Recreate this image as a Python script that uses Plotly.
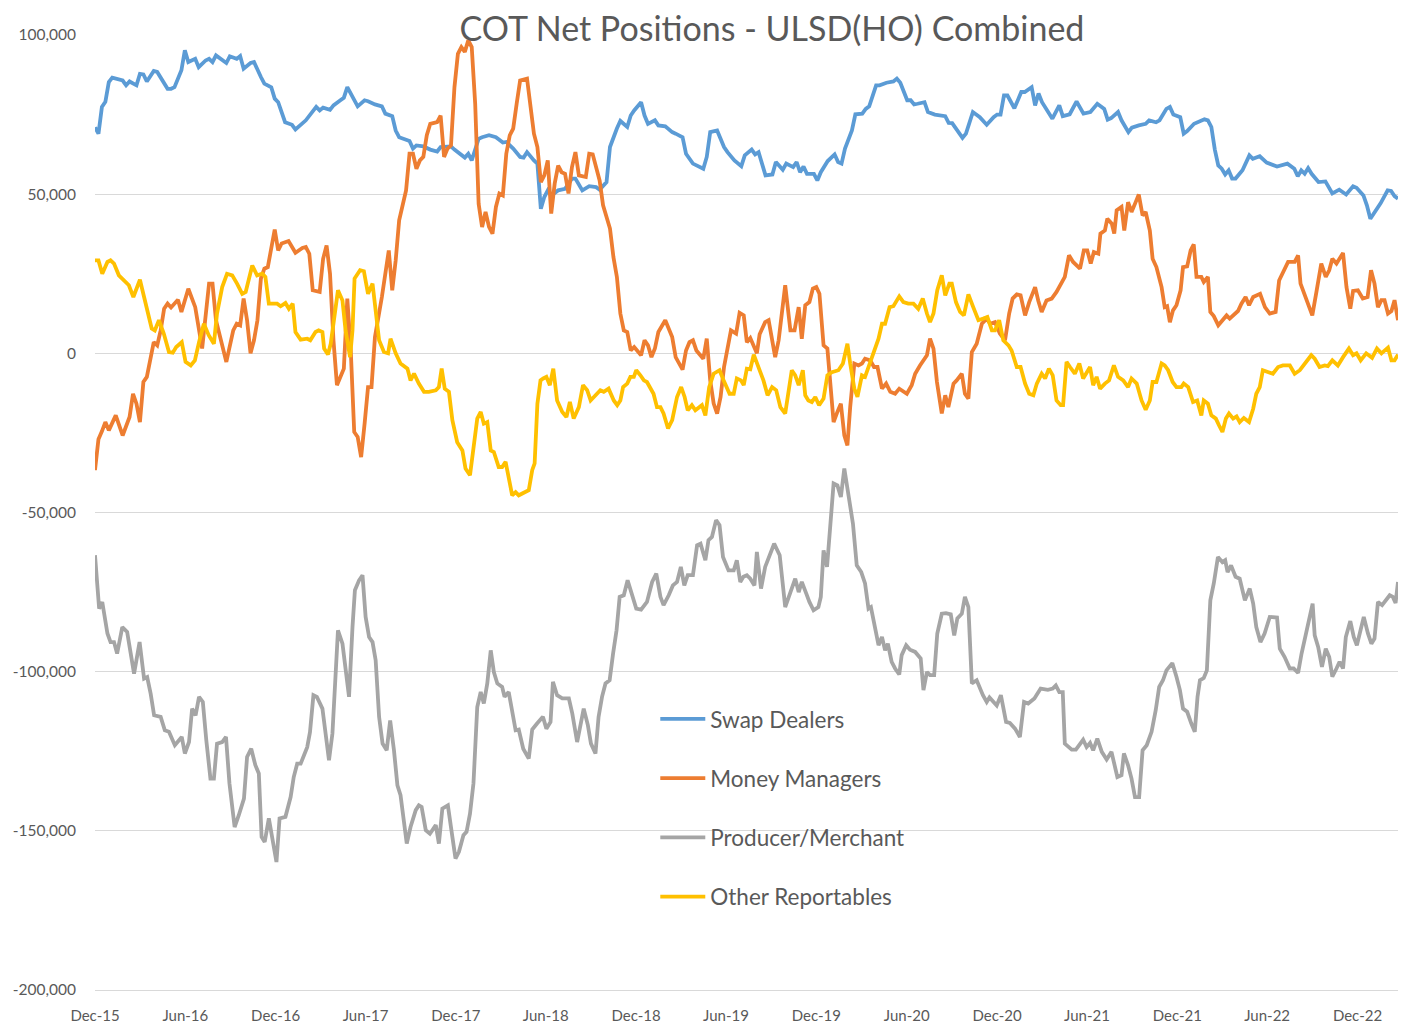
import numpy as np
import pandas as pd
import plotly.graph_objects as go

START = "2015-12-01"

# (weeks since 2015-12-01, net position in thousands of contracts)
swap_dealers = [
    (0, 71), (1, 69), (2, 77.4), (3, 79), (4, 85.2), (5, 86.6), (8, 85.7), (9, 84.2), (10, 85.4), (12, 84.2),
    (13, 87.8), (14, 87.6), (15, 85.4), (17, 88.7), (18, 88.4), (21, 83.1), (22, 83.1), (23, 83.6), (25, 88.9),
    (26, 95.2), (27, 91.5), (29, 92.5), (30, 89.9), (32, 92), (33, 92.5), (34, 91.5), (35, 93.6), (38, 91.2),
    (39, 93.3), (41, 92.5), (42, 93.4), (43, 89.4), (45, 91.2), (46, 91.5), (48, 86.8), (49, 84.7), (51, 83.6),
    (52, 80), (53, 78.9), (55, 72.6), (57, 71.8), (58, 70.3), (61, 73.2), (63, 76.3), (64, 77.4), (65, 76.3),
    (66, 77.2), (68, 76.5), (69, 77.9), (71, 79.5), (72, 80.3), (73, 83.6), (75, 79.5), (76, 77.6), (78, 79.5),
    (79, 79.2), (81, 78.2), (83, 77.6), (84, 75.3), (86, 74.5), (87, 70), (88, 67.9), (91, 66.7), (92, 64.3),
    (93, 65.3), (95, 65), (97, 64), (99, 63.4), (100, 64.8), (103, 65), (104, 64), (107, 61.5), (108, 62.7),
    (109, 60.6), (111, 67.4), (112, 67.9), (114, 68.5), (116, 67.9), (118, 66.2), (119, 66.4), (121, 64.3),
    (123, 61.7), (124, 61.5), (125, 63.2), (127, 60.6), (128, 59.6), (129, 45.4), (130, 49.1), (131, 51.2),
    (132, 49.6), (134, 51.2), (136, 51.7), (138, 54.9), (139, 54.9), (141, 51.2), (143, 52.5), (145, 52.2),
    (146, 51.4), (148, 53.8), (149, 64.8), (151, 70.6), (152, 73), (154, 71.1), (155, 74.7), (156, 76.3),
    (158, 78.9), (159, 74.7), (160, 72.1), (162, 73.2), (163, 71.6), (165, 71.3), (167, 69.5), (168, 69),
    (170, 67.9), (171, 62.7), (173, 59.6), (176, 58), (177, 61.7), (178, 69.5), (180, 70), (182, 64.8),
    (183, 63.2), (185, 60.6), (187, 58.8), (188, 62.2), (190, 64), (191, 62.5), (192, 63.2), (194, 55.9),
    (196, 56.2), (197, 60.1), (199, 57.7), (200, 59.6), (202, 58.5), (203, 60.1), (204, 56.9), (205, 58.7),
    (206, 56.4), (208, 56.4), (209, 54.3), (210, 56.9), (212, 60.4), (214, 62.5), (215, 60.1), (216, 59.6),
    (217, 64.3), (219, 70), (220, 75.1), (222, 75.3), (223, 76.8), (224, 77.6), (226, 84.2), (227, 84.2),
    (229, 85), (231, 85.4), (232, 86.3), (233, 85), (235, 79.5), (236, 79.5), (237, 78.2), (238, 78.4),
    (240, 78.9), (241, 75.8), (243, 75), (246, 74.5), (247, 72.4), (248, 72.3), (251, 67.7), (252, 69),
    (254, 75.8), (256, 74.2), (258, 71.8), (260, 74.2), (261, 75), (262, 75), (263, 81), (264, 81), (266, 77),
    (267, 79.5), (268, 82.1), (269, 82.1), (271, 83.6), (272, 77.9), (273, 81.6), (274, 78.9), (276, 75.6),
    (277, 73.7), (279, 77.9), (280, 74.5), (282, 75.1), (284, 79.1), (286, 75.3), (288, 75.8), (290, 78.4),
    (292, 76.8), (293, 73.4), (294, 73.9), (296, 75.8), (297, 73.2), (299, 69.5), (300, 70.9), (302, 71.6),
    (304, 72.1), (305, 73.2), (307, 72.6), (308, 73.2), (310, 76.8), (311, 77.4), (312, 75), (314, 74.2),
    (315, 69), (316, 69.8), (318, 72.1), (321, 73.5), (322, 73.2), (323, 71.1), (324, 64), (325, 59), (326, 58),
    (327, 56.2), (328, 57.5), (329, 54.9), (330, 54.9), (332, 57.5), (334, 62.2), (335, 61.1), (337, 61.9),
    (339, 59.9), (340, 59.6), (342, 58.7), (345, 59.6), (347, 58), (348, 55.6), (349, 57.5), (350, 56.4),
    (351, 58.2), (352, 56.4), (354, 53.8), (356, 54), (358, 50.2), (360, 51.4), (362, 49.9), (364, 52.5),
    (365, 52), (367, 49.6), (368, 46.5), (369, 42.3), (371, 45.4), (372, 47.2), (374, 51.2), (375, 51),
    (376, 49.4), (377, 48.6),
]

money_managers = [
    (0, -36.7), (1, -27), (2, -24.5), (3, -21.6), (4, -24.2), (6, -19.5), (8, -25.8), (10, -20), (11, -12.7),
    (12, -15.8), (13, -21.6), (14, -9), (15, -7.4), (17, 3.5), (18, 2.5), (19, 7.2), (20, 14), (21, 15.6),
    (22, 14.4), (24, 16.8), (25, 13), (27, 20.3), (29, 14.5), (30, 8.3), (31, 1.5), (33, 21.9), (34, 21.9),
    (35, 10.4), (37, 0.9), (38, -2.7), (40, 7.2), (41, 9.3), (42, 8.8), (43, 17.2), (44, 10.4), (45, 0),
    (46, 4.1), (47, 10.4), (48, 23.5), (49, 26.6), (50, 27.1), (51, 33.4), (52, 38.9), (53, 32.3), (54, 34.5),
    (56, 35.3), (57, 33.5), (58, 31.6), (60, 33.1), (61, 33.4), (62, 31.3), (63, 19.8), (65, 19.3), (66, 29.7),
    (67, 33.9), (68, 25), (69, 4.1), (70, -10), (72, -4.8), (73, 17.2), (74, 0.9), (75, -24.7), (76, -26.3),
    (77, -32.6), (78, -22.1), (79, -10.6), (80, -10.6), (81, 5.1), (83, 17.7), (84, 26.1), (85, 32.3),
    (86, 19.8), (87, 29.2), (88, 41.8), (89, 47), (90, 51.2), (91, 62.7), (92, 62.7), (93, 58), (94, 60.6),
    (95, 61.7), (96, 68.5), (97, 72.1), (99, 72.6), (100, 74.7), (101, 61.7), (102, 64.3), (103, 65.3),
    (104, 83.6), (105, 94.1), (106, 96.2), (107, 94.7), (108, 98.3), (109, 96.2), (110, 78.4), (111, 47),
    (112, 39.7), (113, 44.4), (114, 39.7), (115, 37.6), (116, 46), (117, 50.2), (118, 49.6), (119, 62.7),
    (120, 68.5), (121, 70.6), (122, 78.4), (123, 85.7), (125, 86.3), (126, 78), (127, 69), (128, 64.8),
    (129, 53.8), (130, 55.9), (131, 60.6), (132, 43.9), (133, 53.3), (134, 59), (135, 56.9), (136, 56.4),
    (137, 50.2), (138, 58.5), (139, 63.2), (140, 55.9), (142, 55.4), (143, 62.7), (144, 62.5), (146, 54.3),
    (147, 46.5), (149, 39.2), (150, 30.2), (151, 24), (152, 12.5), (153, 7.2), (154, 6.7), (155, 0.9), (156, 2),
    (158, -0.6), (159, 4.1), (160, 2.5), (161, -1.2), (162, 1.5), (163, 6.7), (165, 10.4), (167, 5.1),
    (168, -1.2), (170, -5.1), (171, 0.9), (172, 3.5), (173, 4.1), (174, 0.9), (176, -1.7), (177, 4.6),
    (178, -8.5), (179, -15.8), (180, -18.9), (181, -13.7), (182, -4.3), (183, 2), (184, 7.2), (185.5, 6.2),
    (186.5, 12.7), (187.7, 11.9), (188.6, 3.5), (189.6, 4.8), (190.6, 2), (191.5, 0), (192.3, 6), (193.9, 9.8),
    (194.9, 10.4), (196.8, -1.2), (197.8, 4.1), (199.7, 21.4), (201.2, 7.2), (202.4, 7.2), (203.6, 14.5),
    (204.5, 4.6), (205.5, 15.1), (206.7, 16.1), (207.7, 20.3), (208.7, 20.8), (209.6, 18.7), (210.8, 2.5),
    (211.9, 1.5), (213.7, -21.6), (214.8, -18.4), (215.8, -15.8), (216.8, -25.8), (217.7, -28.9),
    (218.5, -16.9), (219.7, -3.2), (220.9, -3.8), (221.9, -3.2), (222.8, -1.7), (224.3, -2.2), (225.4, -4.3),
    (226.4, -4.3), (227.7, -11.1), (228.9, -9.5), (230.1, -12.1), (231.5, -12.7), (232.7, -11.1),
    (234.9, -12.7), (236.3, -10), (237.3, -6.4), (238.7, -3.8), (240.7, -0.6), (241.6, 4.6), (242.6, 1.5),
    (243.6, -9), (245, -18.9), (246, -13.2), (246.9, -16.9), (248.4, -9.5), (249.3, -8.5), (250.8, -6.4),
    (251.7, -12.7), (252.7, -14.2), (253.7, 0.4), (255.1, 3), (256.1, 7.2), (256.6, 9.3), (258, 10.9),
    (259, 9.3), (260.4, 9.8), (261.8, 6.2), (263.3, 4.1), (264.5, 12.5), (265.5, 17.2), (266.7, 18.5),
    (267.8, 18.2), (269.1, 11.9), (270.3, 16.1), (272, 20.8), (272.9, 16.6), (273.9, 13), (275.3, 16.6),
    (276.8, 17.2), (278.2, 19.3), (279.7, 21.9), (280.6, 24), (281.8, 30.8), (283, 28.7), (285, 26.6),
    (286.1, 32.3), (287.1, 32.3), (288.1, 28.2), (289, 31.8), (290.3, 31.3), (290.9, 37.6), (292.2, 38.6),
    (292.9, 42.3), (294.2, 40.7), (294.9, 37.6), (295.6, 44.9), (297, 46), (297.8, 38.6), (298.9, 47.5),
    (299.9, 44.4), (301.1, 47.5), (302, 49.9), (303.1, 43.3), (304, 44.4), (305.2, 38.6), (306, 29.7),
    (307.1, 27.1), (308.6, 20.8), (309.5, 14.5), (310.2, 14.8), (311, 9.8), (311.9, 13.5), (312.9, 15.1),
    (314.1, 19.8), (314.8, 27.1), (316, 27.3), (317, 32.3), (317.9, 34.2), (318.7, 24), (320.1, 24),
    (320.8, 22.4), (322, 24), (322.7, 13), (323.7, 11.7), (325, 8.8), (326.4, 10.7), (327.4, 11.9),
    (328.3, 10.9), (329.8, 12.5), (330.7, 13.3), (331.7, 15.6), (332.9, 17.7), (333.9, 15.1), (335.1, 17.7),
    (337.1, 18.7), (338.5, 14.5), (339.9, 12.5), (341.6, 13), (342.6, 22.9), (343.7, 25.5), (345.2, 28.7),
    (347.1, 28.7), (348.1, 30.8), (348.8, 21.9), (350.3, 17.2), (352.2, 11.9), (353.4, 19.3), (354.8, 28.2),
    (356.1, 24), (357.1, 26.1), (358, 29.7), (359.2, 28.2), (361.1, 31.5), (362.1, 20.8), (363.2, 14),
    (364, 19.6), (365.4, 19.8), (366.8, 17.2), (368.2, 17.7), (369.2, 26.1), (370.2, 21.9), (371.2, 14.5),
    (372.2, 16.7), (373.1, 16.7), (374.1, 12.5), (375.1, 13.3), (376, 16.7), (377, 10.4),
]

producer_merchant = [
    (0, -63.4), (1.2, -80.2), (2.1, -78.1), (3.6, -88), (4.5, -90.7), (5.5, -90.7), (6.4, -94.3), (7.9, -86),
    (9.3, -87.5), (11.3, -100.6), (12.9, -90.7), (14.2, -102.2), (15.1, -101.7), (16.1, -106.9),
    (17.1, -113.7), (19, -114.2), (20.2, -118.4), (21.4, -118.9), (23.1, -123.1), (25.1, -120.5),
    (26, -125.7), (27.2, -122.1), (28.1, -111.6), (29.1, -113.7), (30.1, -107.9), (31.2, -109.5),
    (32.2, -121.5), (33.4, -133.6), (34.4, -133.6), (35.3, -122.6), (36.8, -122.1), (37.9, -120.5),
    (38.9, -135.1), (40.4, -148.8), (41.6, -145.1), (43.1, -139.9), (44, -126.8), (45.2, -124.2),
    (46.4, -129.4), (47.4, -132), (48.2, -151.9), (49.1, -153.5), (50.3, -146.1), (51.4, -153.5),
    (52.5, -159.8), (53.4, -146.1), (55.1, -145.6), (56.6, -139.4), (57.5, -133.1), (58.5, -128.9),
    (59.5, -128.9), (61.4, -123.7), (62.2, -119), (63.2, -107.4), (64.2, -107.9), (65.8, -111.6),
    (66.8, -121.5), (67.7, -127.8), (68.7, -119.4), (69.4, -102.7), (70.3, -87), (71.6, -91.2),
    (72.5, -98.5), (73.5, -107.9), (74.5, -86), (75.2, -74.4), (76.4, -71.3), (77.4, -69.7), (78.3, -82.8),
    (79.3, -89.1), (80.3, -90.7), (81.2, -96.4), (82.2, -114.2), (83.2, -122.6), (84.4, -124.7),
    (85.4, -115.3), (86.5, -124.7), (87.5, -135.7), (88.4, -138.8), (90.2, -154), (91.3, -148.8),
    (92.8, -143.5), (93.7, -142), (94.5, -142.5), (95.7, -149.8), (96.9, -150.9), (98.6, -148.2),
    (99.5, -154), (100.5, -143), (102.1, -142), (103.4, -151.9), (104.3, -158.7), (105.3, -156.6),
    (106.6, -151.4), (107.5, -150.3), (108.5, -144.6), (109.5, -135.1), (110.6, -111.1), (111.6, -106.4),
    (112.5, -110), (113.5, -103.7), (114.5, -93.3), (115.4, -100.1), (116.4, -103.7), (117.8, -104.8),
    (118.5, -107.9), (119.7, -106.4), (120.7, -113.2), (121.7, -118.4), (122.6, -118.2), (123.9, -124.2),
    (125.5, -127.3), (126.5, -118.2), (127.9, -116.3), (129.6, -114.2), (130.6, -117.9), (131.8, -115.8),
    (132.5, -103.2), (133.7, -107.4), (135.2, -108.4), (137.1, -108.4), (138.1, -113.2), (139.5, -122.1),
    (141.4, -111.6), (142.6, -116.8), (143.5, -122.6), (144.8, -125.7), (145.7, -114.2), (146.7, -107.9),
    (147.7, -103.7), (148.9, -102.7), (149.9, -94.3), (150.9, -87), (151.8, -76.5), (153, -76),
    (154.1, -71.3), (155.4, -76.5), (156.6, -80.2), (158, -80.5), (159.7, -78.1), (161.2, -71.8),
    (162.4, -69.2), (163.6, -76.5), (164.5, -79.1), (166, -76), (167.2, -72.9), (168.4, -71.8),
    (169.5, -67.1), (170.5, -72.9), (171.5, -69.7), (173, -69.7), (174.2, -60.3), (175.2, -59.8),
    (176.6, -65), (177.5, -58.7), (178.5, -57.7), (179.7, -52.4), (180.7, -54), (181.7, -64), (183.3, -68.2),
    (184.8, -68.2), (185.7, -65), (186.7, -71.8), (187.6, -70.2), (188.6, -69.7), (189.6, -70.8),
    (190.8, -72.9), (191.5, -62.4), (192.7, -73.9), (193.9, -67.1), (196.5, -59.8), (198.1, -63.4),
    (199.7, -79.7), (201.2, -75), (202.6, -70.8), (203.6, -75), (204.5, -71.8), (205.8, -75.5),
    (206.7, -78.1), (207.9, -80.7), (209.3, -79.7), (210, -76.5), (210.8, -61.9), (211.8, -67.1),
    (212.7, -55.6), (213.7, -40.9), (214.8, -41.5), (215.8, -45.1), (216.8, -36.2), (218, -44.1),
    (219.3, -53.5), (220.4, -66.6), (221.7, -68.7), (222.8, -72.3), (223.8, -80.2), (224.5, -79.7),
    (225.7, -87), (226.7, -91.7), (227.7, -89.1), (228.6, -93.3), (229.4, -91.2), (230.5, -96.9),
    (231.5, -99), (232.7, -100.9), (233.4, -94.8), (234.7, -91.7), (235.8, -93.1), (237.3, -93.8),
    (238.9, -95.9), (239.7, -105.8), (240.7, -100.1), (241.6, -101.1), (242.8, -101.1), (243.7, -88),
    (245, -81.8), (246.2, -81.6), (247.6, -82), (248.6, -88.6), (249.5, -83.3), (250.8, -81.8),
    (251.7, -76.5), (252.7, -79.7), (253.7, -103.7), (255.1, -102.7), (256.9, -107.4), (258, -109.5),
    (258.8, -108.1), (260.9, -110.6), (262.1, -107.4), (263.6, -115.8), (264.7, -116.1), (266.2, -117.9),
    (267.6, -120.5), (268.8, -109.5), (270, -110), (271.8, -108.4), (273.6, -105.3), (275.7, -105.7),
    (277.1, -105.3), (278, -104.3), (279, -106.4), (280, -106.4), (280.6, -122.6), (282.6, -124.5),
    (283.8, -124.5), (285.9, -121.4), (286.9, -123.7), (287.9, -122.4), (288.8, -124.7), (290, -121),
    (291.3, -125.2), (292.7, -127.6), (294.1, -125.2), (295.8, -133.1), (297, -132.5), (297.7, -125.7),
    (298.9, -129.4), (299.9, -133.6), (300.9, -139.4), (302.1, -139.4), (303.1, -124.7), (304.3, -123.1),
    (305.7, -118.9), (306.9, -112.1), (307.9, -104.8), (309, -102.7), (310, -99.6), (311.7, -97.3),
    (312.9, -101.6), (313.9, -105.8), (314.8, -111.6), (316, -112.6), (317.2, -116.3), (318.2, -118.9),
    (319, -107.9), (319.7, -102.7), (320.8, -102), (321.7, -99.6), (322.7, -77.6), (323.7, -72.3),
    (324.9, -64), (326.2, -65.6), (327, -65), (327.7, -68.7), (328.7, -66.6), (330, -70.2), (331.2, -70.8),
    (332.7, -77.6), (334.1, -73.9), (335.1, -78.6), (336, -86), (337.2, -90.7), (338.4, -88), (339.9, -82.8),
    (342, -83), (342.8, -92.8), (344.2, -95.4), (345.7, -99), (346.8, -99), (348.1, -100.4), (349.1, -94.3),
    (350.5, -87.5), (352.3, -78.6), (352.9, -88.6), (353.9, -92.2), (355, -98.5), (356.1, -92.8),
    (357.1, -95.4), (358, -101.6), (359.2, -99), (360.1, -96.9), (361.1, -99), (361.9, -89.1),
    (363.2, -84.1), (364.2, -89.1), (365.1, -91.7), (365.9, -88), (367.1, -82.8), (368.3, -88),
    (369.3, -91.2), (370.2, -89.6), (371.2, -78.1), (372.4, -79.1), (373.6, -77.4), (374.6, -76),
    (375.5, -76.5), (376.3, -78.4), (377, -71.8),
]

other_reportables = [
    (0, 29.2), (1, 29.2), (2.1, 25), (3.6, 28.7), (4.5, 29.2), (5.5, 28.2), (6.9, 24.5), (8.4, 22.9),
    (9.8, 21.4), (11.1, 17.7), (13, 23.1), (14.2, 17.7), (15.4, 12.5), (16.4, 7.8), (17.3, 7.2), (18.5, 10.4),
    (19.9, 6.2), (21.4, 0.4), (22.5, 0.2), (23.5, 2), (25.1, 3.5), (26.2, -2.7), (27.7, -3.8), (28.9, -2.2),
    (30.1, 3.5), (31.5, 9.3), (32.9, 5.7), (34.4, 3), (35.3, 12.5), (36.8, 20.8), (38.2, 25), (39.7, 24.5),
    (41.1, 21.9), (42.6, 18.7), (43.6, 19.3), (45.5, 27.6), (46.9, 24.5), (48.4, 25), (49.3, 24), (50.3, 15.6),
    (52.7, 15.6), (53.7, 14.8), (55.1, 15.8), (56.1, 14), (57.2, 15.6), (58, 6.7), (59.5, 4.3), (61.4, 4.6),
    (62.3, 4.1), (63.8, 6.7), (64.7, 7.2), (65.8, 6.7), (66.3, 1.5), (67.4, -0.4), (68.2, 3), (69.4, 13),
    (70.3, 19.8), (71.6, 16.6), (72.5, 7.2), (73.8, -1.2), (74.5, 7.2), (75.1, 23.5), (76.7, 26.1),
    (77.8, 25.8), (79, 18.7), (80.3, 21.9), (81.2, 12.5), (82.2, 4.1), (83.6, 0.4), (84.8, 0), (85.5, 4.6),
    (87, 0), (88.4, -3.2), (90.4, -4.8), (91.3, -8.5), (92.3, -6.4), (93.7, -9.5), (95.2, -12.1),
    (96.6, -12.1), (98.6, -11.6), (99.5, -10.6), (100.3, -4.8), (101.2, -11.1), (102.4, -12.1), (103.4, -21),
    (104.8, -27.9), (106.3, -30.5), (107.2, -36.2), (108.5, -38.3), (109.5, -29.4), (110.6, -20.5),
    (111.6, -18.4), (112.5, -22.1), (113.5, -21.6), (114.5, -30.5), (115.4, -31), (116.8, -35.7),
    (117.8, -35.7), (118.8, -34.1), (120.7, -44.6), (121.7, -43.6), (122.6, -44.6), (125.5, -43),
    (126.5, -36.7), (127.2, -34.6), (128, -15.8), (128.9, -8.5), (129.7, -7.9), (130.6, -7.4), (131.6, -10),
    (132.6, -4.8), (133.7, -14.8), (135.2, -18.4), (136.4, -20), (137.4, -15.3), (138.5, -20.5),
    (140, -16.9), (141.2, -10), (142.4, -11.6), (143.4, -14.8), (144.8, -13.2), (146.2, -11.6),
    (147.2, -12.1), (148.6, -11.1), (150.1, -14.8), (151.1, -16.3), (152, -14.8), (152.8, -10.6),
    (154, -9.5), (154.9, -7.4), (155.9, -7.4), (156.6, -5.3), (157.8, -6.9), (158.8, -8.5), (159.7, -9),
    (161.6, -12.7), (162.6, -16.9), (163.6, -16.9), (164.5, -18.9), (165.8, -23.6), (167, -21),
    (168.4, -13.7), (169.6, -10.6), (170.6, -13.7), (171.5, -17.9), (172.7, -16.3), (173.7, -17.9),
    (175.6, -16.3), (176.6, -19.5), (177.7, -10.6), (179, -6.4), (180.7, -5.3), (181.9, -8.5),
    (183.6, -12.7), (184.8, -12.7), (185.7, -7.9), (186.9, -8.5), (187.7, -10), (188.6, -4.8), (189.6, -5),
    (190.6, -0.4), (191.5, -3.2), (192.5, -5.9), (193.4, -8.5), (194.6, -13.2), (195.9, -10.6),
    (197.1, -11.6), (198.3, -16.9), (199.7, -18.9), (200.7, -11.6), (201.6, -5.3), (202.6, -6.9),
    (203.6, -10), (204.8, -5.3), (205.5, -13.2), (206.4, -14.8), (207.4, -15.3), (208.4, -13.7),
    (209.5, -16.3), (210.8, -14.2), (211.9, -6.9), (213.2, -5.9), (215.1, -5.3), (216.4, -3.2), (217.7, 3),
    (218.5, -3.2), (219.7, -11.1), (220.6, -13.7), (221.9, -6.9), (222.8, -7.4), (224.3, -2.7), (225.7, 0.9),
    (226.7, 4.6), (227.7, 9.3), (228.6, 9.3), (229.9, 14.5), (231, 14.8), (232.7, 17.9), (233.9, 16.1),
    (235.3, 15.6), (236.8, 15.6), (238.2, 14), (239.5, 17.2), (240.7, 12.5), (241.6, 9.8), (242.6, 12.5),
    (243.7, 19.8), (245, 24.5), (246, 18.2), (247.2, 21.9), (247.9, 21.9), (249.1, 16.1), (250.3, 13),
    (251.4, 11.9), (252.7, 18.5), (254.1, 14.5), (255.6, 10.4), (257, 10.9), (258.2, 11.4), (259.5, 7.2),
    (260.4, 7.2), (261.6, 10.4), (262.8, 4.1), (264.3, 2.5), (265.2, 0.9), (266.7, -4.3), (267.8, -4.3),
    (269.1, -9.5), (270.3, -12.7), (271.5, -13.2), (272.5, -9.5), (273.9, -6.4), (274.9, -7.9), (276, -4.8),
    (277.1, -6.9), (278.2, -14.8), (279.4, -16.3), (280.1, -16.3), (281.1, -2.7), (282.1, -4.3),
    (283.5, -6.4), (284.8, -3.2), (285.9, -7.9), (287.9, -4.3), (288.8, -10), (289.8, -7.4), (290.8, -11.1),
    (292.2, -9.5), (293.4, -8.5), (294.8, -3.8), (296, -7.4), (297.5, -8.5), (298.9, -10.6), (299.9, -7.9),
    (301.4, -9.5), (302.8, -14.8), (304, -17.7), (305.2, -14.8), (306, -9), (307.1, -9), (308.6, -3.2),
    (309.5, -3.8), (310.5, -5.3), (311.8, -9), (312.9, -10.6), (314.3, -10.6), (315, -9.5), (316.3, -10.6),
    (317.7, -15.3), (318.9, -14.8), (320.1, -19.5), (320.8, -14.8), (322, -15.8), (323, -19.5),
    (324.3, -20.5), (325.2, -22.6), (326.2, -24.7), (327.2, -20.5), (328.1, -18.9), (329.3, -20.5),
    (330.3, -19.8), (331.2, -21.6), (332.4, -20.3), (333.9, -21.6), (335.1, -17.4), (336, -12.7),
    (337, -10.6), (337.9, -5.3), (339.4, -5.9), (340.8, -6.4), (342.3, -4.3), (343.7, -3.8), (345.7, -3.8),
    (347.1, -6.4), (348.6, -5.3), (350, -3.2), (351.9, -0.6), (352.9, -1.7), (354.3, -4.3), (355.8, -3.8),
    (356.7, -4), (358, -2.2), (359.6, -3.8), (361.1, -1.2), (362.8, 1.5), (364, -0.6), (365, 0),
    (366.2, -2.2), (367.8, 0), (369.5, -1.4), (370.9, 1.5), (372.2, 0), (374.1, 1.8), (375.1, -2.2),
    (376, -2.2), (377, -0.4),
]

series_names = ["Swap Dealers", "Money Managers", "Producer/Merchant", "Other Reportables"]
series_data = [swap_dealers, money_managers, producer_merchant, other_reportables]
series_colors = ["#5B9BD5", "#ED7D31", "#A5A5A5", "#FFC000"]

y_ticks = [100000, 50000, 0, -50000, -100000, -150000, -200000]
y_tick_labels = ["100,000", "50,000", "0", "-50,000", "-100,000", "-150,000", "-200,000"]

tick_dates = pd.date_range("2015-12-01", "2022-12-01", freq="6MS")
tick_labels = [d.strftime("%b-%y") for d in tick_dates]

start = pd.Timestamp(START)
end = start + pd.Timedelta(days=7 * 377)

fig = go.Figure()
for name, data, color in zip(series_names, series_data, series_colors):
    wk = np.array([p[0] for p in data], dtype=float)
    val = np.array([p[1] for p in data], dtype=float) * 1000
    dates = start + pd.to_timedelta(wk * 7, unit="D")
    fig.add_trace(go.Scatter(
        x=dates, y=val, mode="lines", name=name, legendgroup=name,
        line=dict(color=color, width=3.8),
    ))

grey = "#595959"
FW, FH = 1409, 1016
fig.update_layout(
    width=FW, height=FH,
    margin=dict(l=87, r=19, t=27, b=34),
    paper_bgcolor="white", plot_bgcolor="white",
    font=dict(family="Lato, Open Sans, sans-serif", color=grey, size=15),
    title=dict(
        text="COT Net Positions - ULSD(HO) Combined",
        x=764 / FW, xanchor="center", xref="container",
        y=1 - 21 / FH, yanchor="middle", yref="container",
        font=dict(size=34, color=grey, family="Lato, Open Sans, sans-serif"),
    ),
    showlegend=True,
    legend=dict(
        x=0.430, y=0.306, xanchor="left", yanchor="top",
        font=dict(size=22.5, color=grey),
        bgcolor="rgba(0,0,0,0)", tracegroupgap=27,
        itemwidth=45,
    ),
)
fig.update_xaxes(
    type="date", range=[start, end], automargin=False,
    tickvals=list(tick_dates), ticktext=tick_labels,
    showgrid=False, zeroline=False,
    showline=True, linecolor="#d9d9d9", linewidth=1,
    ticks="", ticklabelstandoff=12,
    tickfont=dict(size=15, color=grey),
)
fig.update_yaxes(
    range=[-200000, 100000], tickvals=y_ticks, ticktext=y_tick_labels, automargin=False,
    showgrid=True, gridcolor="#d9d9d9", gridwidth=1,
    zeroline=False, showline=False, ticks="",
    tickfont=dict(size=15.5, color=grey),
    ticklabelstandoff=18,
)

fig.write_html("out.html")
